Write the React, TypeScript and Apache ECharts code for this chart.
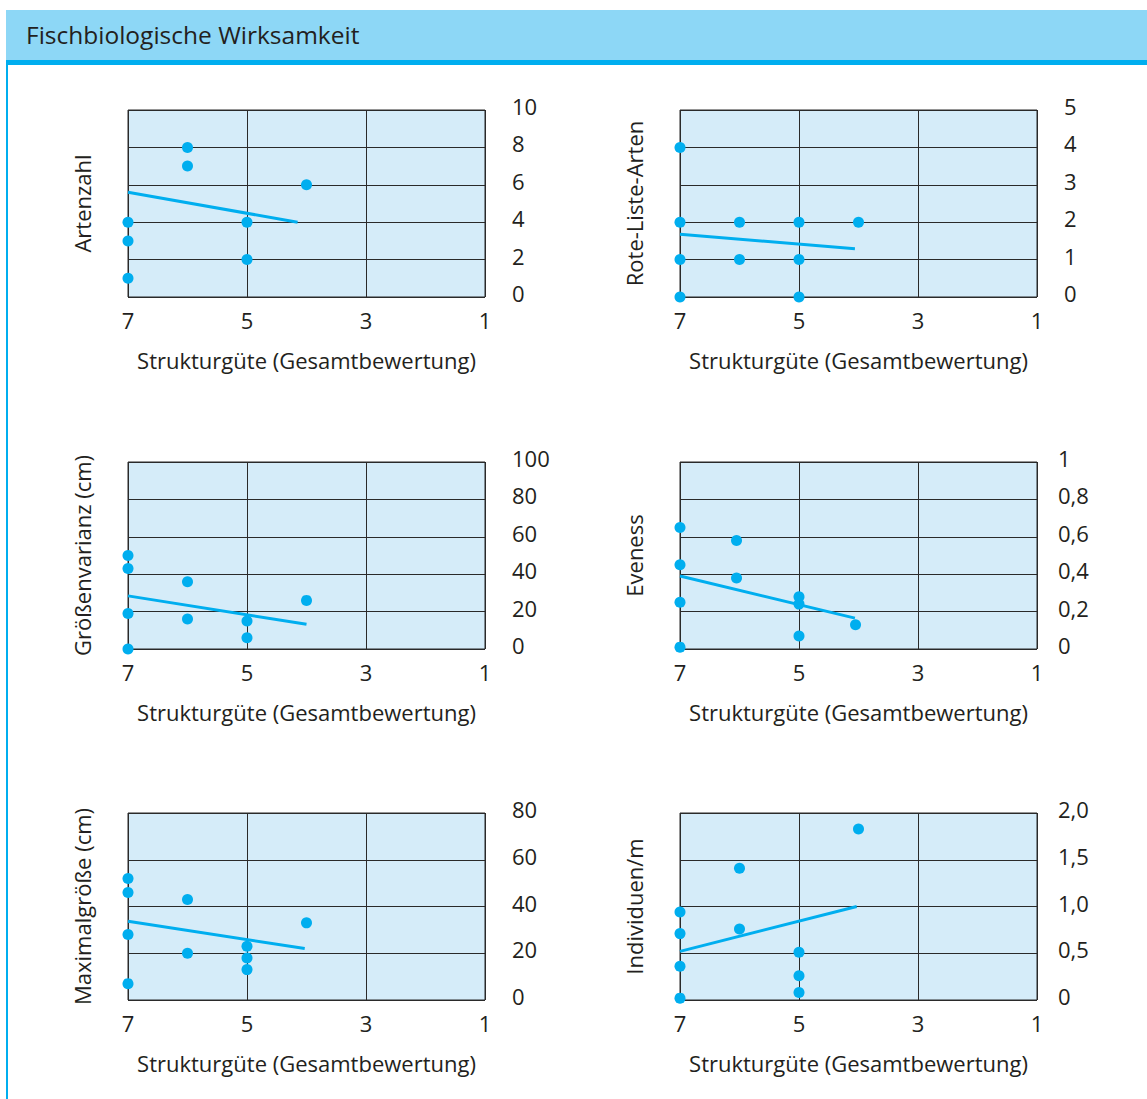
import React, { useEffect, useRef } from "react";
import * as echarts from "echarts";

const pageTitle = "Fischbiologische Wirksamkeit";
const xAxisTitle = "Strukturgüte (Gesamtbewertung)";
const xTicks = [7, 5, 3, 1];

const yNames = [
  "Artenzahl",
  "Rote-Liste-Arten",
  "Größenvarianz (cm)",
  "Eveness",
  "Maximalgröße (cm)",
  "Individuen/m",
];
const yMax = [10, 5, 100, 1, 80, 2];
const yStep = [2, 1, 20, 0.2, 20, 0.5];

const artenzahlTicks = ["0", "2", "4", "6", "8", "10"];
const roteListeTicks = ["0", "1", "2", "3", "4", "5"];
const groessenTicks = ["0", "20", "40", "60", "80", "100"];
const evenessTicks = ["0", "0,2", "0,4", "0,6", "0,8", "1"];
const maximalTicks = ["0", "20", "40", "60", "80"];
const individuenTicks = ["0", "0,5", "1,0", "1,5", "2,0"];

const artenzahlPoints = [[6, 8], [6, 7], [4, 6], [7, 4], [5, 4], [7, 3], [5, 2], [7, 1]];
const artenzahlTrend = [[7, 5.6], [4.15, 4.0]];
const roteListePoints = [[7, 4], [7, 2], [6, 2], [5, 2], [4, 2], [7, 1], [6, 1], [5, 1], [7, 0], [5, 0]];
const roteListeTrend = [[7, 1.68], [4.06, 1.29]];
const groessenPoints = [[7, 50], [7, 43], [6, 36], [4, 26], [7, 19], [6, 16], [5, 15], [5, 6], [7, 0]];
const groessenTrend = [[7, 28.4], [4, 13.2]];
const evenessPoints = [[7, 0.65], [7, 0.45], [7, 0.25], [7, 0.01], [6.05, 0.58], [6.05, 0.38], [5, 0.28], [5, 0.24], [5, 0.07], [4.05, 0.13]];
const evenessTrend = [[7, 0.39], [4.06, 0.165]];
const maximalPoints = [[7, 52], [7, 46], [6, 43], [7, 28], [4, 33], [6, 20], [5, 23], [5, 18], [5, 13], [7, 7]];
const maximalTrend = [[7, 33.7], [4.03, 22]];
const individuenPoints = [[4, 1.83], [6, 1.41], [7, 0.94], [7, 0.71], [6, 0.76], [7, 0.36], [7, 0.02], [5, 0.51], [5, 0.26], [5, 0.08]];
const individuenTrend = [[7, 0.52], [4.03, 1.0]];

const tickSets = [artenzahlTicks, roteListeTicks, groessenTicks, evenessTicks, maximalTicks, individuenTicks];
const pointSets = [artenzahlPoints, roteListePoints, groessenPoints, evenessPoints, maximalPoints, individuenPoints];
const trendSets = [artenzahlTrend, roteListeTrend, groessenTrend, evenessTrend, maximalTrend, individuenTrend];

const FONT = "'Open Sans', 'Noto Sans', sans-serif";
const TEXT = "#231f20";
const CYAN = "#00aeef";
const PLOT_BG = "#d5ecf9";
const LINE = "#2a2a2a";
const FS = 22;

export default function App() {
  const ref = useRef<HTMLDivElement>(null);
  useEffect(() => {
    if (!ref.current) return;
    const chart = echarts.init(ref.current, undefined, { renderer: "svg" });
    const lefts = [128, 680];
    const labelMargins = [27, 27, 27, 21, 27, 21];
    const tops = [110, 462, 813];
    const grids: any[] = [];
    const xAxes: any[] = [];
    const yAxes: any[] = [];
    const series: any[] = [];
    for (let i = 0; i < 6; i++) {
      const col = i % 2;
      const row = Math.floor(i / 2);
      grids.push({
        left: lefts[col],
        top: tops[row],
        width: 357,
        height: 187,
        show: true,
        backgroundColor: PLOT_BG,
        borderColor: LINE,
        borderWidth: 1,
      });
      xAxes.push({
        type: "value",
        gridIndex: i,
        min: 1,
        max: 7,
        interval: 2,
        inverse: true,
        axisLine: { show: false },
        axisTick: { show: false },
        splitLine: { show: true, lineStyle: { color: LINE, width: 1 } },
        axisLabel: {
          show: true,
          margin: 12,
          fontSize: FS,
          fontFamily: FONT,
          color: TEXT,
          formatter: (v: number) => (xTicks.includes(v) ? String(v) : ""),
        },
        name: xAxisTitle,
        nameLocation: "middle",
        nameGap: 52,
        nameTextStyle: { fontSize: FS, fontFamily: FONT, color: TEXT },
      });
      const ticks = tickSets[i];
      const step = yStep[i];
      yAxes.push({
        type: "value",
        gridIndex: i,
        position: "right",
        min: 0,
        max: yMax[i],
        interval: step,
        axisLine: { show: false },
        axisTick: { show: false },
        splitLine: { show: true, lineStyle: { color: LINE, width: 1 } },
        axisLabel: {
          show: true,
          margin: labelMargins[i],
          align: "left",
          verticalAlign: "bottom",
          lineHeight: 8,
          fontSize: FS,
          fontFamily: FONT,
          color: TEXT,
          formatter: (v: number) => ticks[Math.round(v / step)] ?? "",
        },
      });
      yAxes.push({
        type: "value",
        gridIndex: i,
        position: "left",
        min: 0,
        max: yMax[i],
        interval: step,
        axisLine: { show: false },
        axisTick: { show: false },
        splitLine: { show: false },
        axisLabel: { show: false },
        name: yNames[i],
        nameLocation: "middle",
        nameGap: 35,
        nameTextStyle: { fontSize: FS, fontFamily: FONT, color: TEXT },
      });
      series.push({
        type: "line",
        xAxisIndex: i,
        yAxisIndex: 2 * i,
        data: trendSets[i],
        showSymbol: false,
        symbol: "none",
        lineStyle: { color: CYAN, width: 3 },
        z: 3,
      });
      series.push({
        type: "scatter",
        xAxisIndex: i,
        yAxisIndex: 2 * i,
        data: pointSets[i],
        symbol: "circle",
        symbolSize: 11,
        clip: false,
        itemStyle: { color: CYAN, opacity: 1 },
        z: 4,
      });
    }
    chart.setOption({
      animation: false,
      backgroundColor: "#ffffff",
      grid: grids,
      xAxis: xAxes,
      yAxis: yAxes,
      series,
      graphic: [
        { type: "rect", shape: { x: 6, y: 10, width: 1141, height: 50 }, style: { fill: "#8dd7f6" }, z: -1 },
        { type: "rect", shape: { x: 6, y: 60, width: 1141, height: 5 }, style: { fill: CYAN }, z: -1 },
        { type: "rect", shape: { x: 6, y: 60, width: 2, height: 1039 }, style: { fill: CYAN }, z: -1 },
        {
          type: "text",
          left: 26,
          top: 22,
          style: { text: pageTitle, fontSize: 24.5, fontFamily: FONT, fill: TEXT },
        },
      ],
    });
    return () => chart.dispose();
  }, []);
  return (
    <div
      ref={ref}
      style={{ position: "absolute", left: 0, top: 0, width: 1147, height: 1099 }}
    />
  );
}
